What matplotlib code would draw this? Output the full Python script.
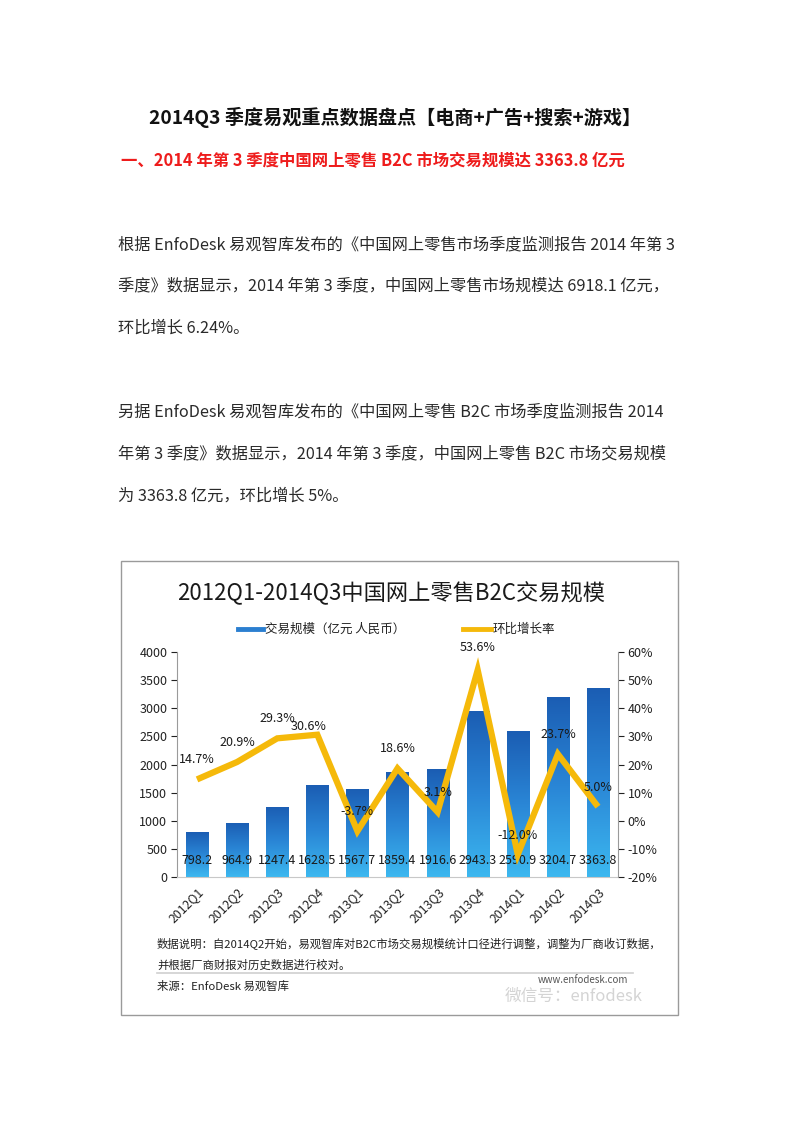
import matplotlib
matplotlib.use("Agg")
import matplotlib.pyplot as plt
import numpy as np
from matplotlib.lines import Line2D
from matplotlib.patches import Rectangle
from matplotlib.colors import LinearSegmentedColormap

plt.rcParams['font.family'] = ['Noto Sans CJK SC', 'DejaVu Sans']

# ---------------- data ----------------
quarters = ['2012Q1', '2012Q2', '2012Q3', '2012Q4', '2013Q1', '2013Q2',
            '2013Q3', '2013Q4', '2014Q1', '2014Q2', '2014Q3']
volume = [798.2, 964.9, 1247.4, 1628.5, 1567.7, 1859.4,
          1916.6, 2943.3, 2590.9, 3204.7, 3363.8]
growth = [14.7, 20.9, 29.3, 30.6, -3.7, 18.6, 3.1, 53.6, -12.0, 23.7, 5.0]
left_ticks = [0, 500, 1000, 1500, 2000, 2500, 3000, 3500, 4000]
right_ticks = [-20, -10, 0, 10, 20, 30, 40, 50, 60]

page_title = '2014Q3 季度易观重点数据盘点【电商+广告+搜索+游戏】'
heading = '一、2014 年第 3 季度中国网上零售 B2C 市场交易规模达 3363.8 亿元'
para_lines = [
    '根据 EnfoDesk 易观智库发布的《中国网上零售市场季度监测报告 2014 年第 3',
    '季度》数据显示，2014 年第 3 季度，中国网上零售市场规模达 6918.1 亿元，',
    '环比增长 6.24%。',
    '另据 EnfoDesk 易观智库发布的《中国网上零售 B2C 市场季度监测报告 2014',
    '年第 3 季度》数据显示，2014 年第 3 季度，中国网上零售 B2C 市场交易规模',
    '为 3363.8 亿元，环比增长 5%。',
]
chart_title = '2012Q1-2014Q3中国网上零售B2C交易规模'
legend_bar = '交易规模（亿元 人民币）'
legend_line = '环比增长率'
note1 = '数据说明：自2014Q2开始，易观智库对B2C市场交易规模统计口径进行调整，调整为厂商收订数据，'
note2 = '并根据厂商财报对历史数据进行校对。'
source = '来源：EnfoDesk 易观智库'

W, H = 800, 1132
fig = plt.figure(figsize=(W / 100, H / 100), dpi=100)
fig.patch.set_facecolor('white')


def fx(x):
    return x / W


def fy(y):
    return 1 - y / H


# ---------------- page text ----------------
fig.text(fx(395), fy(117), page_title, ha='center', va='center',
         fontsize=13.8, fontweight='bold', color='#111111')
fig.text(fx(121), fy(161), heading, ha='left', va='center',
         fontsize=11.8, fontweight='bold', color='#ee1c1c')
para_y = [245, 286, 328, 412, 454, 496]
for s, y in zip(para_lines, para_y):
    fig.text(fx(118), fy(y), s, ha='left', va='center', fontsize=11.7,
             color='#2a2a2a')

# ---------------- chart frame ----------------
frame = Rectangle((fx(121), fy(1015)), fx(678) - fx(121), fy(561) - fy(1015),
                  transform=fig.transFigure, fill=False, edgecolor='#9a9a9a',
                  linewidth=1.0)
fig.add_artist(frame)

fig.text(fx(391), fy(593), chart_title, ha='center', va='center',
         fontsize=16, color='#1a1a1a')

# legend (manual)
fig.add_artist(Line2D([fx(238), fx(263)], [fy(629), fy(629)],
                      transform=fig.transFigure, color='#2b7fd0', lw=3.5))
fig.text(fx(265), fy(629), legend_bar, ha='left', va='center', fontsize=9,
         color='#222222')
fig.add_artist(Line2D([fx(463), fx(491)], [fy(629), fy(629)],
                      transform=fig.transFigure, color='#f5b90a', lw=3.5))
fig.text(fx(493), fy(629), legend_line, ha='left', va='center', fontsize=9,
         color='#222222')

# ---------------- axes ----------------
x0, x1, y0, y1 = 177, 618, 652, 877
ax = fig.add_axes([fx(x0), fy(y1), fx(x1) - fx(x0), fy(y0) - fy(y1)])
ax.set_facecolor('none')
x = np.arange(len(quarters))
bw = 0.55
bars = ax.bar(x, volume, width=bw, color='none', edgecolor='none', zorder=2)

# gradient fill
grad = np.linspace(0, 1, 256).reshape(-1, 1)
cmap = LinearSegmentedColormap.from_list('bluegrad', ['#3cb8f0', '#2a86d6', '#1b5db3'])
for b in bars:
    bx = b.get_x()
    bwid, bh = b.get_width(), b.get_height()
    im = ax.imshow(grad, extent=[bx, bx + bwid, 0, bh], origin='lower',
                   cmap=cmap, aspect='auto', zorder=2)
    im.set_clip_path(b)

ax.set_xlim(-0.5, len(quarters) - 0.5)
ax.set_ylim(0, 4000)
ax.set_yticks(left_ticks)
ax.set_yticklabels([str(v) for v in left_ticks])
ax.set_xticks(x)
ax.set_xticklabels(quarters, rotation=45, ha='right', rotation_mode='anchor',
                   fontsize=8.8, color='#222222')
ax.tick_params(axis='x', length=0, pad=6)
ax.tick_params(axis='y', labelsize=9, colors='#222222', length=4, width=0.8,
               direction='out', pad=3)
for sp in ['top', 'right']:
    ax.spines[sp].set_visible(False)
ax.spines['left'].set_color('#9a9a9a')
ax.spines['bottom'].set_color('#c8c8c8')

for xi, v in zip(x, volume):
    ax.text(xi, 300, f'{v:.1f}', ha='center', va='center', fontsize=9,
            color='#1a1a1a', zorder=5)

ax2 = ax.twinx()
ax2.set_ylim(-20, 60)
ax2.set_yticks(right_ticks)
ax2.set_yticklabels([f'{v}%' for v in right_ticks])
ax2.tick_params(axis='y', labelsize=9, colors='#222222', length=4, width=0.8,
                direction='out', pad=3)
for sp in ['top', 'left', 'bottom']:
    ax2.spines[sp].set_visible(False)
ax2.spines['right'].set_color('#9a9a9a')
ax2.plot(x, growth, color='#f5b90a', lw=4.5, solid_joinstyle='miter',
         solid_capstyle='butt', zorder=4)

offsets = {3: (-6, 6), 7: (0, 16)}
for i, (xi, g) in enumerate(zip(x, growth)):
    dx, dy = offsets.get(i, (0, 14))
    ax2.annotate(f'{g:.1f}%', (xi, g), xytext=(dx, dy),
                 textcoords='offset points', ha='center', va='center',
                 fontsize=9, color='#1a1a1a', zorder=6)

# ---------------- notes ----------------
fig.text(fx(157), fy(944), note1, ha='left', va='center', fontsize=8.2,
         color='#222222')
fig.text(fx(157), fy(965), note2, ha='left', va='center', fontsize=8.2,
         color='#222222')
fig.add_artist(Line2D([fx(157), fx(633)], [fy(973), fy(973)],
                      transform=fig.transFigure, color='#cfcfcf', lw=1.2))
fig.text(fx(157), fy(986), source, ha='left', va='center', fontsize=8.2,
         color='#222222')
fig.text(fx(505), fy(996), '微信号：enfodesk', ha='left', va='center',
         fontsize=12, color='#d4d4d4')
fig.text(fx(583), fy(980), 'www.enfodesk.com', ha='center', va='center',
         fontsize=7, color='#555555')

fig.savefig('out.png', dpi=100, facecolor='white')
